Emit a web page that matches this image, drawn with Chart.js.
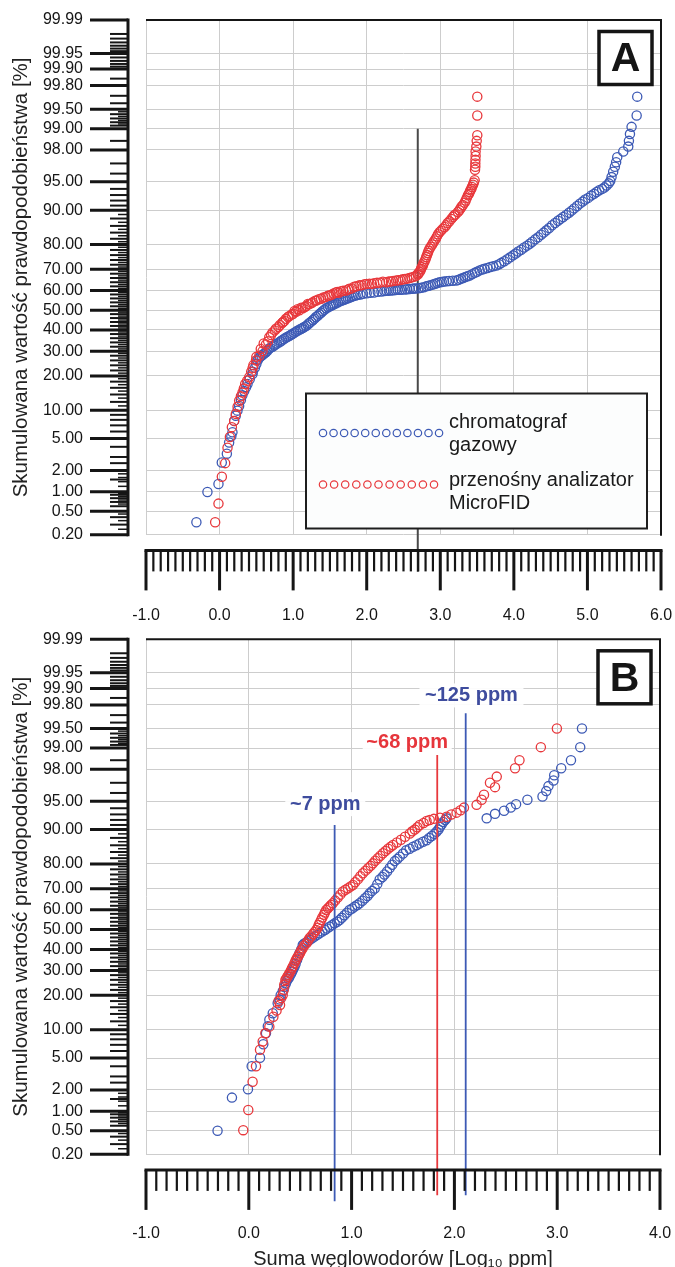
<!DOCTYPE html>
<html><head><meta charset="utf-8">
<script src="https://cdn.jsdelivr.net/npm/chart.js@4.4.1/dist/chart.umd.min.js"></script>
<style>
html,body{margin:0;padding:0;background:#fff;overflow:hidden;width:675px;height:1267px;}
#wa{position:absolute;left:0;top:0;width:675px;height:625px;}
#wb{position:absolute;left:0;top:625px;width:675px;height:652px;}
</style></head><body>
<div id="wa"><canvas id="ca" width="675" height="625"></canvas></div>
<div id="wb"><canvas id="cb" width="675" height="652"></canvas></div>
<script>
// ---------- DATA ----------
const probTicks = [0.2,0.5,1,2,5,10,20,30,40,50,60,70,80,90,95,98,99,99.5,99.8,99.9,99.95,99.99];
const rulerMid = [0.3,0.4,0.6,0.7,0.8,0.9,1.5,2.5,3,4,6,7,8,9,12,14,16,18,22,24,26,28,32,34,36,38,42,44,46,48,52,54,56,58,62,64,66,68,72,74,76,78,82,84,86,88,91,92,93,94,96,97,98.5,99.1,99.2,99.3,99.4,99.6,99.7,99.85,99.91,99.92,99.93,99.94,99.955,99.96,99.965,99.97,99.975,99.98];
const rulerShort = [0.25,0.35,0.45,0.65,0.75,0.85,0.95,1.2,1.4,1.6,1.8,11,13,15,17,19,21,23,25,27,29,31,33,35,37,39,41,43,45,47,49,51,53,55,57,59,61,63,65,67,69,71,73,75,77,79,81,83,85,87,89,99.15,99.25,99.35,99.45];
const xTicksA = [-1,0,1,2,3,4,5,6];
const xTicksB = [-1,0,1,2,3,4];

const seriesNames = ['chromatograf gazowy','przenośny analizator MicroFID'];
const legendLines = [['chromatograf','gazowy'],['przenośny analizator','MicroFID']];

// Panel A – chromatograf gazowy (log10 ppm, cumulative %)
const gcA_x = [-0.315,-0.165,-0.015,0.030,0.099,0.13,0.16,0.175,0.198,0.22,0.243,0.266,0.29,0.31,0.335,0.36,0.38,0.41,0.448,0.48,0.516,0.55,0.59,0.63,0.67,0.72,0.76,0.811,0.85,0.9,0.95,0.99,1.04,1.09,1.13,1.175,1.22,1.27,1.31,1.356,1.40,1.45,1.50,1.54,1.583,1.63,1.68,1.72,1.77,1.82,1.88,1.95,2.05,2.15,2.24,2.30,2.36,2.42,2.48,2.55,2.62,2.67,2.74,2.809,2.87,2.93,2.99,3.05,3.12,3.218,3.28,3.34,3.399,3.47,3.535,3.6,3.68,3.762,3.83,3.91,3.989,4.06,4.14,4.216,4.29,4.37,4.443,4.52,4.6,4.67,4.75,4.82,4.897,4.97,5.05,5.124,5.2,5.26,5.31,5.328,5.35,5.373,5.39,5.405,5.487,5.555,5.564,5.578,5.60,5.669,5.677,
  0.45,0.5,0.53,0.57,0.61,0.65,0.69,0.74,0.78,0.83,0.875,0.925,0.97,1.015,1.065,1.11,1.15,1.2,1.245,1.29,1.335,1.38,1.425,1.475,1.52,1.56,1.61,1.655,1.70,1.745,1.795,1.85,1.915,2.0,2.1,2.2,2.27,2.33,2.39,2.45,2.52,2.585,2.645,2.705,2.775,2.84,2.9,2.96,3.02,3.085,3.17,3.25,3.31,3.37,3.435,3.5,3.57,3.64,3.72,3.80,3.87,3.95,4.025,4.1,4.18,4.25,4.33,4.405,4.48,4.56,4.635,4.71,4.785,4.86,4.935,5.01,5.09,5.16,5.23,5.29];
const gcA_p = [0.33,0.99,1.3,2.55,3.3,4.5,5.3,5.9,7.8,8.8,9.9,11,12.5,13.8,15,16.2,17.2,18.8,20.7,23,26,27.5,28.5,29.5,31,32,33,34,35,36.2,37.2,38,39.2,40.2,41,42,43.5,45,46.5,48,49.5,51,52,52.8,53.5,54.5,55.2,55.8,56.5,57.2,57.8,58.3,58.8,59.3,59.7,59.9,60.1,60.3,60.4,60.6,60.8,61.0,61.3,62,62.6,63.3,64,64.3,64.6,64.8,65.6,66.5,67.2,68.4,69.5,70.2,71,71.7,72.8,74.3,75.9,77.4,78.9,80.3,81.8,83.3,84.7,86.2,87.4,88.4,89.4,90.4,91.4,92.2,92.9,93.5,94.0,94.5,95.1,95.6,96.2,96.7,97.1,97.5,97.9,98.2,98.5,98.8,99.06,99.37,99.69,
  21.5,24.5,26.8,28,29,30.2,31.5,32.5,33.5,34.5,35.6,36.7,37.6,38.6,39.7,40.6,41.5,42.7,44.2,45.7,47.2,48.7,50.2,51.5,52.4,53.1,54,54.8,55.5,56.1,56.8,57.5,58,58.6,59,59.5,59.8,60,60.2,60.3,60.5,60.7,60.9,61.1,61.6,62.3,62.9,63.6,64.1,64.5,64.7,65.2,66,66.8,67.8,68.9,69.9,70.6,71.3,72.2,73.5,75.1,76.6,78.1,79.6,81,82.5,84,85.4,86.8,87.9,88.9,89.9,90.9,91.8,92.5,93.2,93.8,94.2,94.8];
// Panel A – MicroFID
const fidA_x = [-0.06,-0.015,0.031,0.076,0.108,0.14,0.167,0.198,0.221,0.245,0.266,0.29,0.312,0.33,0.348,0.375,0.403,0.43,0.46,0.494,0.54,0.584,0.63,0.675,0.72,0.766,0.82,0.862,0.902,0.95,1.0,1.04,1.084,1.13,1.18,1.22,1.265,1.32,1.38,1.44,1.492,1.55,1.6,1.65,1.72,1.765,1.83,1.9,1.97,2.037,2.1,2.18,2.264,2.33,2.40,2.46,2.52,2.582,2.64,2.695,2.72,2.74,2.763,2.785,2.809,2.83,2.854,2.89,2.922,2.955,2.99,3.035,3.081,3.125,3.172,3.205,3.24,3.275,3.308,3.345,3.376,3.40,3.422,3.445,3.467,3.472,3.476,3.476,3.478,3.48,3.48,3.49,3.495,3.503,3.503,3.503,
  0.45,0.5,0.56,0.6,0.66,0.70,0.75,0.80,0.85,0.88,0.93,0.98,1.02,1.06,1.11,1.16,1.2,1.25,1.3,1.35,1.41,1.47,1.52,1.58,1.62,1.68,1.75,1.8,1.86,1.93,2.0,2.07,2.14,2.22,2.3,2.36,2.43,2.49,2.55,2.61,2.67,2.70,2.73,2.75,2.77,2.8,2.82,2.84,2.87,2.905,2.94,2.97,3.01,3.06,3.1,3.15,3.19,3.26,3.29,3.33,3.36,3.39,3.41,3.43,3.455];
const fidA_p = [0.33,0.66,1.64,2.5,3.9,5.2,6.7,7.8,9.2,10.8,12.3,13.5,14.6,15.8,17.2,18.3,19.5,21.5,24,26,28,30,33,36.5,38.8,40.6,42.5,44,45.6,47,48.2,49.2,50,51,52.2,53.1,54,55,55.8,56.7,57.5,58.5,59.2,59.6,60,60.8,61.8,62.5,63,63.3,63.5,63.8,64,64.4,64.8,65.1,65.5,66,66.6,67.6,68.8,70.2,71.7,73.4,75.2,76.8,78.5,80,81.4,82.8,84.1,85.2,86.2,87.3,88.4,89.0,89.6,90.4,91.1,92,92.96,93.5,94,94.6,95.2,96.4,96.7,97.0,97.3,97.6,97.9,98.2,98.5,98.75,99.37,99.69,
  23,27.5,31,33.5,34.5,37.5,39.8,41.5,43.5,44.5,46.5,47.8,49.6,50.5,51.3,51.6,53.2,53.6,54.8,55.6,56.5,57.3,57.8,59,58.8,59.8,60.5,61,62,62.6,63.2,63.2,63.7,64.2,64.3,64.6,65,65.4,65.7,66.3,67,68.2,69.5,71,72.5,74.3,76,77.6,79.2,80.7,82.1,83.5,84.6,85.7,86.8,87.9,88.8,90,90.8,91.6,92.5,93.2,93.8,94.3,94.9];

// Panel B – chromatograf gazowy
const gcB_x = [-0.304,-0.164,-0.008,0.028,0.109,0.141,0.167,0.185,0.2,0.233,0.281,0.31,0.346,0.37,0.395,0.42,0.444,0.47,0.493,0.525,0.56,0.59,0.64,0.688,0.74,0.785,0.835,0.883,0.93,0.98,1.03,1.078,1.13,1.176,1.225,1.273,1.32,1.371,1.42,1.468,1.53,1.598,1.66,1.729,1.78,1.826,1.86,1.891,1.924,2.314,2.395,2.483,2.548,2.6,2.71,2.857,2.893,2.915,2.964,2.971,3.039,3.134,3.224,3.241,
  0.3,0.33,0.36,0.385,0.41,0.43,0.455,0.48,0.51,0.54,0.575,0.615,0.665,0.715,0.76,0.81,0.86,0.905,0.955,1.005,1.055,1.105,1.155,1.2,1.25,1.3,1.345,1.395,1.445,1.5,1.565,1.63,1.695,1.755,1.805,1.845,1.875,1.91];
const gcB_p = [0.5,1.57,2.04,4.0,5.04,7.1,9.2,10.8,12.4,14.2,17.3,20,23.2,25.5,27.3,29.5,31.7,35,38.1,42.2,43.5,44.7,46.5,48.1,49.8,51.5,53.2,54.9,57.3,59.9,61.6,63.2,65.6,67.9,70.1,74,76,78.5,81,82.5,84.5,85.6,86.5,87.4,88.5,89.5,90.6,91.6,92.3,92.3,93.1,93.6,94.1,94.6,95.2,95.6,96.2,96.7,97.2,97.6,98.06,98.5,99.03,99.5,
  18.5,21.5,24.5,26.5,28.5,30.5,33,36.5,40,43,44.1,45.6,47.3,49,50.6,52.3,54,56,58.6,60.7,62.4,64.4,66.7,69,72,75,77.2,79.7,81.7,83.5,85,86,87,88,89,90,91.1,92];
// Panel B – MicroFID
const fidB_x = [-0.054,-0.005,0.037,0.07,0.109,0.135,0.161,0.2,0.239,0.27,0.304,0.33,0.356,0.375,0.395,0.42,0.444,0.476,0.50,0.525,0.56,0.59,0.625,0.656,0.68,0.704,0.73,0.753,0.785,0.818,0.865,0.915,0.965,1.013,1.06,1.11,1.16,1.208,1.255,1.305,1.355,1.403,1.48,1.566,1.615,1.663,1.729,1.8,1.924,2.021,2.093,2.216,2.265,2.288,2.346,2.395,2.412,2.59,2.633,2.841,2.997,
  0.29,0.315,0.34,0.345,0.365,0.385,0.41,0.43,0.455,0.465,0.49,0.51,0.54,0.575,0.605,0.64,0.67,0.69,0.715,0.74,0.77,0.80,0.84,0.89,0.94,0.99,1.035,1.085,1.135,1.185,1.23,1.28,1.33,1.38,1.44,1.52,1.59,1.64,1.70,1.76,1.86,1.97,2.06];
const fidB_p = [0.51,1.04,2.57,4.0,6.2,7.6,9.2,10.7,13.2,15,16.7,20.1,25.9,27.3,28.8,31,33.3,36.4,38.5,40.6,43,45.6,47.8,49.8,52.4,54.9,57.5,59.9,61.6,63.2,66,68.7,70.2,71.6,74,76.5,78.4,80.2,82,83.6,85,86.1,87.5,89.1,90,91,91.8,92.2,92.6,93.3,94.1,94.5,95.2,95.8,97.0,96.6,97.5,98.06,98.5,99.03,99.5,
  18,19,22,24,26.5,28,30,32,34.5,35.5,37.5,39.5,42,44.3,46.5,48.8,51,53.5,56.2,58.7,60.8,62.4,64.5,67.3,69.5,71,72.8,75.3,77.5,79.3,81.1,82.8,84.3,85.6,86.8,88.3,89.6,90.5,91.4,92,92.4,93,93.7];

// Reference lines (log10 ppm)
const refLineA = [2.694];
const refLinesB = [0.835, 1.833, 2.11];
const refLabelsB = ['~7 ppm','~68 ppm','~125 ppm'];

// ---------- STYLE ----------
const FONT = '"Liberation Sans", Arial, Helvetica, sans-serif';
const BLUE = '#3d5ab5', RED = '#e8383c';
const BLUE_TXT = '#3e4c9e', RED_TXT = '#e6353b';
const GRID = '#cdcdcd', INK = '#151515';
const CLEAR = 'rgba(0,0,0,0)';

// ---------- probability scale ----------
function qnorm(p){
 const a=[-3.969683028665376e+01,2.209460984245205e+02,-2.759285104469687e+02,1.383577518672690e+02,-3.066479806614716e+01,2.506628277459239e+00];
 const b=[-5.447609879822406e+01,1.615858368580409e+02,-1.556989798598866e+02,6.680131188771972e+01,-1.328068155288572e+01];
 const c=[-7.784894002430293e-03,-3.223964580411365e-01,-2.400758277161838e+00,-2.549732539343734e+00,4.374664141464968e+00,2.938163982698783e+00];
 const d=[7.784695709041462e-03,3.224671290700398e-01,2.445134137142996e+00,3.754408661907416e+00];
 const pl=0.02425, ph=1-pl; let q,r;
 if(p<pl){q=Math.sqrt(-2*Math.log(p));return (((((c[0]*q+c[1])*q+c[2])*q+c[3])*q+c[4])*q+c[5])/((((d[0]*q+d[1])*q+d[2])*q+d[3])*q+1);}
 if(p>ph){q=Math.sqrt(-2*Math.log(1-p));return -(((((c[0]*q+c[1])*q+c[2])*q+c[3])*q+c[4])*q+c[5])/((((d[0]*q+d[1])*q+d[2])*q+d[3])*q+1);}
 q=p-0.5;r=q*q;return (((((a[0]*r+a[1])*r+a[2])*r+a[3])*r+a[4])*r+a[5])*q/(((((b[0]*r+b[1])*r+b[2])*r+b[3])*r+b[4])*r+1);
}
function pnorm(z){const t=1/(1+0.2316419*Math.abs(z));const y=0.3989423*Math.exp(-z*z/2)*t*(0.3193815+t*(-0.3565638+t*(1.781478+t*(-1.821256+t*1.330274))));return z>0?1-y:y;}

class ProbitScale extends Chart.Scale {
  determineDataLimits(){ this.min = this.options.min; this.max = this.options.max; }
  buildTicks(){ return this.options.tickValues.map(v=>({value:v})); }
  configure(){ super.configure(); this._zmin = qnorm(this.min/100); this._zmax = qnorm(this.max/100); }
  getPixelForValue(v){ return this.getPixelForDecimal((qnorm(v/100)-this._zmin)/(this._zmax-this._zmin)); }
  getValueForPixel(px){ return 100*pnorm(this._zmin + this.getDecimalForPixel(px)*(this._zmax-this._zmin)); }
  getPixelForTick(i){ return this.getPixelForValue(this.ticks[i].value); }
  getLabelForValue(v){ return v.toFixed(2); }
}
ProbitScale.id = 'probit';
ProbitScale.defaults = {};
Chart.register(ProbitScale);

const pts = (xs, ps) => xs.map((x,i)=>({x, y: ps[i]}));

function line(ctx,x1,y1,x2,y2){ctx.beginPath();ctx.moveTo(x1,y1);ctx.lineTo(x2,y2);ctx.stroke();}

// rulers, frame, panel letter
function frameAndRulers(letter, xMinorStep){
  return {
    id:'rulers',
    afterDraw(chart){
      const {ctx, chartArea:ca, scales:{x,y}} = chart;
      ctx.save();
      ctx.strokeStyle = INK; ctx.lineCap='butt';
      ctx.lineWidth = 2;
      line(ctx, ca.left, ca.top, ca.right+1, ca.top);
      line(ctx, ca.right, ca.top, ca.right, ca.bottom+1);
      const rx = ca.left - 18;
      const yTop = y.getPixelForValue(y.max), yBot = y.getPixelForValue(y.min);
      ctx.lineWidth = 3;
      line(ctx, rx, yTop-1.5, rx, yBot+1.5);
      probTicks.forEach(v=>{const p=y.getPixelForValue(v); line(ctx, rx-38, p, rx, p);});
      ctx.lineWidth = 2;
      rulerMid.forEach(v=>{const p=y.getPixelForValue(v); line(ctx, rx-18, p, rx, p);});
      ctx.lineWidth = 1.5;
      rulerShort.forEach(v=>{const p=y.getPixelForValue(v); line(ctx, rx-10, p, rx, p);});
      const ry = ca.bottom + 15.6;
      const xL = x.getPixelForValue(x.min), xR = x.getPixelForValue(x.max);
      ctx.lineWidth = 3;
      line(ctx, xL-1.5, ry, xR+1.5, ry);
      x.ticks.forEach(t=>{const p=x.getPixelForValue(t.value); line(ctx, p, ry, p, ry+40);});
      ctx.lineWidth = 2.2;
      const n = Math.round((x.max-x.min)/xMinorStep);
      for(let i=1;i<n;i++){ if(i%10===0) continue; const p=x.getPixelForValue(x.min+i*xMinorStep); line(ctx, p, ry, p, ry+21);}
      const bx = ca.right-62, by = ca.top+11.5;
      ctx.fillStyle='#fff'; ctx.fillRect(bx,by,53,53);
      ctx.lineWidth=3.5; ctx.strokeRect(bx,by,53,53);
      ctx.fillStyle=INK; ctx.font='bold 41px '+FONT; ctx.textAlign='center'; ctx.textBaseline='middle';
      ctx.fillText(letter, bx+26.5, by+28.5);
      ctx.restore();
    }
  };
}

function baseOptions(xMin, xMax, xTicks, xHeight, xPad, xTitle, layoutPad){
  return {
    responsive:false, animation:false, events:[],
    layout:{padding:layoutPad},
    plugins:{legend:{display:false}, tooltip:{enabled:false}},
    elements:{point:{radius:4.6, borderWidth:1.3, hoverRadius:4.6, pointStyle:'circle'}},
    scales:{
      x:{type:'linear', position:'bottom', min:xMin, max:xMax,
         afterBuildTicks:s=>{s.ticks = xTicks.map(v=>({value:v}));},
         afterFit:s=>{s.height = xHeight; s.paddingLeft = 0; s.paddingRight = 0;},
         grid:{color:GRID, lineWidth:1, drawTicks:true, tickLength:xPad, tickColor:CLEAR},
         border:{display:false},
         ticks:{padding:0, autoSkip:false, maxRotation:0, color:INK, font:{family:FONT,size:16}, callback:v=>Number(v).toFixed(1)},
         title: xTitle ? {display:true, text:xTitle, color:'#222', font:{family:FONT,size:20}, padding:{top:0,bottom:5.5}} : {display:false}
      },
      y:{type:'probit', position:'left', min:0.2, max:99.99, tickValues:probTicks,
         afterFit:s=>{s.width = 146; s.paddingTop = 0; s.paddingBottom = 0;},
         grid:{color:GRID, lineWidth:1, drawTicks:true, tickLength:63, tickColor:CLEAR},
         border:{display:false},
         ticks:{padding:0, autoSkip:false, color:INK, font:{family:FONT,size:16}, callback:v=>v.toFixed(2)},
         title:{display:true, text:'Skumulowana wartość prawdopodobieństwa [%]', color:'#222', font:{family:FONT,size:20.5}, padding:{top:9,bottom:0}}
      }
    }
  };
}

// ---------- Chart A ----------
const refLineAPlugin = {
  id:'refA',
  beforeDatasetsDraw(chart){
    const {ctx, chartArea:ca, scales:{x,y}} = chart;
    ctx.save(); ctx.strokeStyle='#4a4a4a'; ctx.lineWidth=2;
    refLineA.forEach(v=>{const px=x.getPixelForValue(v); line(ctx, px, y.getPixelForValue(99), px, ca.bottom+37);});
    ctx.restore();
  }
};
const legendAPlugin = {
  id:'legA',
  afterDatasetsDraw(chart){
    const {ctx, chartArea:ca} = chart;
    const L = ca.left+160, T = ca.top+373.5, W = 341, H = 135;
    ctx.save();
    ctx.fillStyle='#fcfdfd'; ctx.fillRect(L,T,W,H);
    ctx.strokeStyle='#1e1e1e'; ctx.lineWidth=2; ctx.strokeRect(L,T,W,H);
    const rows = [{c:BLUE, n:12, sp:10.55, cy:T+39.5, lines:legendLines[0], ty:[T+28.5,T+51.8]},
                  {c:RED,  n:11, sp:11.1,  cy:T+91,  lines:legendLines[1], ty:[T+86.7,T+110]}];
    rows.forEach(r=>{
      ctx.strokeStyle=r.c; ctx.lineWidth=1.2;
      for(let i=0;i<r.n;i++){ctx.beginPath();ctx.arc(L+17+i*r.sp, r.cy, 3.7, 0, Math.PI*2);ctx.stroke();}
      ctx.fillStyle='#1a1a1a'; ctx.font='20px '+FONT; ctx.textAlign='left'; ctx.textBaseline='middle';
      r.lines.forEach((t,k)=>ctx.fillText(t, L+143, r.ty[k]));
    });
    ctx.restore();
  }
};

new Chart(document.getElementById('ca'), {
  type:'scatter',
  data:{datasets:[
    {label:seriesNames[1], data:pts(fidA_x, fidA_p), borderColor:RED, backgroundColor:CLEAR},
    {label:seriesNames[0], data:pts(gcA_x, gcA_p), borderColor:BLUE, backgroundColor:CLEAR}
  ]},
  options: baseOptions(-1, 6, xTicksA, 625-534.8, 71.6, null, {left:0, top:20, right:14, bottom:0}),
  plugins:[frameAndRulers('A', 0.1), refLineAPlugin, legendAPlugin]
});

// ---------- Chart B ----------
const annB = [
  {color:BLUE, txt:BLUE_TXT, top:91.0,  lx:0.744, lp:94.6,  w:80,  bot:47},
  {color:RED,  txt:RED_TXT,  top:98.74, lx:1.541, lp:99.2,  w:89,  bot:41},
  {color:BLUE, txt:BLUE_TXT, top:99.72, lx:2.166, lp:99.865,w:104, bot:41}
];
const refLinesBPlugin = {
  id:'refB',
  afterDatasetsDraw(chart){
    const {ctx, chartArea:ca, scales:{x,y}} = chart;
    ctx.save();
    refLinesB.forEach((v,i)=>{
      const a = annB[i]; const px = x.getPixelForValue(v);
      ctx.strokeStyle=a.color; ctx.lineWidth=1.8;
      line(ctx, px, y.getPixelForValue(a.top), px, ca.bottom+a.bot);
      const lx = x.getPixelForValue(a.lx), ly = y.getPixelForValue(a.lp);
      ctx.fillStyle='rgba(255,255,255,0.92)'; ctx.fillRect(lx-a.w/2, ly-12, a.w, 24);
      ctx.fillStyle=a.txt; ctx.font='bold 20px '+FONT; ctx.textAlign='center'; ctx.textBaseline='middle';
      ctx.fillText(refLabelsB[i], lx, ly+0.5);
    });
    ctx.restore();
  }
};

new Chart(document.getElementById('cb'), {
  type:'scatter',
  data:{datasets:[
    {label:seriesNames[1], data:pts(fidB_x, fidB_p), borderColor:RED, backgroundColor:CLEAR},
    {label:seriesNames[0], data:pts(gcB_x, gcB_p), borderColor:BLUE, backgroundColor:CLEAR}
  ]},
  options: baseOptions(-1, 4, xTicksB, 652-529.3, 70.1, 'Suma węglowodorów [Log₁₀ ppm]', {left:0, top:14.3, right:15, bottom:0}),
  plugins:[frameAndRulers('B', 0.1), refLinesBPlugin]
});
</script></body></html>
